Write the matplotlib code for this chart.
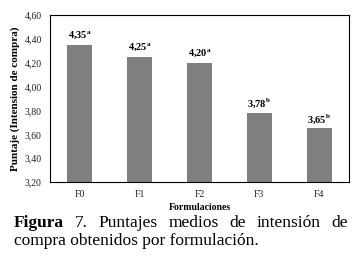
import matplotlib
matplotlib.use("Agg")
import matplotlib.pyplot as plt

# Data
formulaciones = ["F0", "F1", "F2", "F3", "F4"]
puntajes = [4.35, 4.25, 4.20, 3.78, 3.65]
letras = ["a", "a", "a", "b", "b"]
etiquetas = ["4,35", "4,25", "4,20", "3,78", "3,65"]
yticks = [3.20, 3.40, 3.60, 3.80, 4.00, 4.20, 4.40, 4.60]
ytick_labels = ["3,20", "3,40", "3,60", "3,80", "4,00", "4,20", "4,40", "4,60"]

plt.rcParams["font.family"] = "Liberation Serif"
plt.rcParams["mathtext.fontset"] = "custom"
plt.rcParams["mathtext.rm"] = "Liberation Serif"
plt.rcParams["mathtext.bf"] = "Liberation Serif:bold"

fig = plt.figure(figsize=(3.63, 2.58), dpi=100)
ax = fig.add_axes([50 / 363, 1 - 182 / 258, 299 / 363, 167 / 258])

x = range(len(formulaciones))
bars = ax.bar(x, puntajes, width=0.42, color="#7f7f7f", edgecolor="none")

for b, lab, let in zip(bars, etiquetas, letras):
    txt = r"$\mathbf{" + lab.replace(",", "{,}") + r"}^{\mathbf{" + let + "}}$"
    ax.annotate(txt, (b.get_x() + b.get_width() / 2, b.get_height()),
                xytext=(0, 2), textcoords="offset points",
                ha="center", va="bottom", fontsize=7.5)

ax.set_xlim(-0.5, len(formulaciones) - 0.5)
ax.set_ylim(3.2, 4.6)
ax.set_yticks(yticks)
ax.set_yticklabels(ytick_labels, fontsize=7, color="#222222")
ax.set_xticks(list(x))
ax.set_xticklabels(formulaciones, fontsize=7, color="#222222")
ax.tick_params(length=0, pad=6)
for s in ax.spines.values():
    s.set_linewidth(0.8)
    s.set_color("black")

ax.set_xlabel("Formulaciones", fontsize=7, fontweight="bold", labelpad=3)
ax.set_ylabel("Puntaje (Intension de compra)", fontsize=8, fontweight="bold", labelpad=3)

# Caption, justified first line
renderer = fig.canvas.get_renderer()
words = [("Figura", "bold"), ("7.", "normal"), ("Puntajes", "normal"),
         ("medios", "normal"), ("de", "normal"), ("intensión", "normal"), ("de", "normal")]
left, right = 14 / 363, 348 / 363
texts = []
for w, wt in words:
    t = fig.text(0, 1 - 227 / 258, w, fontsize=12.5, fontweight=wt, ha="left", va="baseline")
    texts.append(t)
widths = [t.get_window_extent(renderer).width / 363 for t in texts]
gap = (right - left - sum(widths)) / (len(words) - 1)
pos = left
for t, w in zip(texts, widths):
    t.set_x(pos)
    pos += w + gap

fig.text(left, 1 - 245 / 258, "compra obtenidos por formulación.", fontsize=12.5,
         ha="left", va="baseline")

fig.savefig("out.png", dpi=100)
